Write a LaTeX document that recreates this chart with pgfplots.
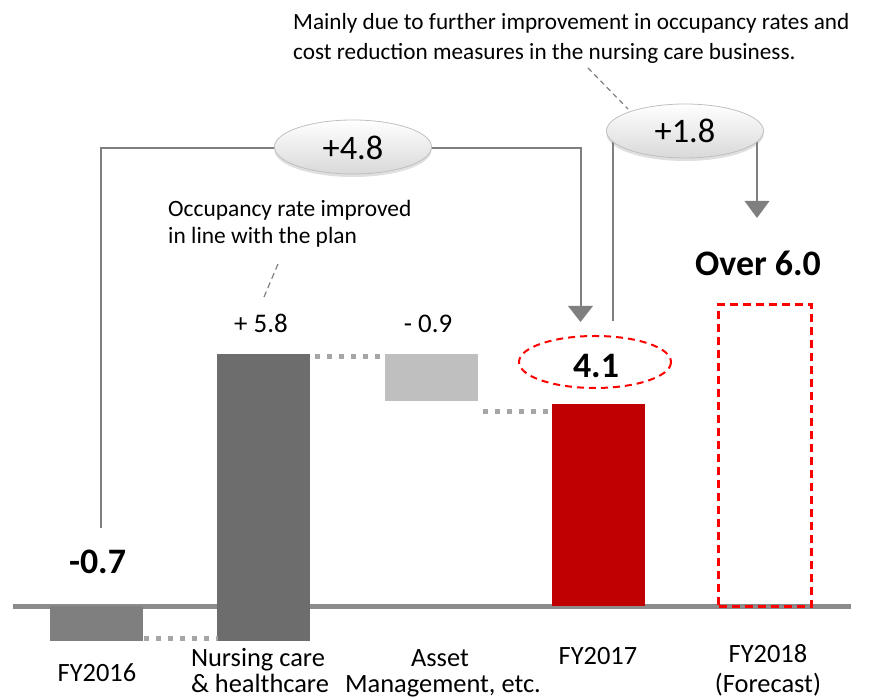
\documentclass[border=0pt]{standalone}
\usepackage{fontspec}
\setmainfont{Carlito}
\usepackage{pgfplots}
\pgfplotsset{compat=1.18}
\usetikzlibrary{shadows}
\definecolor{darkbar}{HTML}{6D6D6D}
\definecolor{midbar}{HTML}{7F7F7F}
\definecolor{lightbar}{HTML}{BFBFBF}
\definecolor{redbar}{HTML}{C00000}
\definecolor{conn}{HTML}{A6A6A6}
\definecolor{basec}{HTML}{8C8C8C}
\definecolor{lin}{HTML}{7F7F7F}
\begin{document}
\begin{tikzpicture}
\begin{axis}[name=ax, scale only axis, width=877bp, height=700bp,
  xmin=-0.5808, xmax=4.6707, ymin=-1.889, ymax=12.253,
  hide axis, clip=false,
  barsty/.style={ybar, bar width=93bp, bar shift=0pt, draw=none}]
% Asset Management (floating 4.15 -> 5.1)
\addplot[barsty, fill=lightbar] coordinates {(2,5.1)};
\addplot[barsty, fill=white] coordinates {(2,4.15)};
% baseline
\addplot[basec, line width=5bp, sharp plot] coordinates {(-0.503,0) (4.515,0)};
% FY2016
\addplot[barsty, fill=midbar] coordinates {(0,-0.7)};
% Nursing care (floating -0.7 -> 5.1)
\addplot[barsty, fill=darkbar] coordinates {(1,5.1)};
\addplot[barsty, fill=darkbar] coordinates {(1,-0.7)};
% FY2017
\addplot[barsty, fill=redbar] coordinates {(3,4.1)};
% FY2018 forecast
\addplot[ybar, bar width=93bp, bar shift=0pt, fill=none, draw=red, line width=2.3bp, dash pattern=on 8bp off 5bp] coordinates {(4,6.1)};
% connectors
\addplot[conn, line width=5bp, dash pattern=on 5bp off 7bp, sharp plot] coordinates {(0.281,-0.64) (0.725,-0.64)};
\addplot[conn, line width=5bp, dash pattern=on 5bp off 7bp, sharp plot] coordinates {(1.305,5.06) (1.71,5.06)};
\addplot[conn, line width=5bp, dash pattern=on 5bp off 7bp, sharp plot] coordinates {(2.31,3.94) (2.72,3.94)};
\end{axis}
\begin{scope}[shift={(ax.north west)}, x=1bp, y=-1bp]
% bracket 1
\draw[lin, line width=2bp] (101,528) -- (101,148) -- (581,148) -- (581,307);
\fill[lin] (568,306) -- (593,306) -- (580.5,322) -- cycle;
% bracket 2
\draw[lin, line width=2bp] (613,321) -- (613,140);
\draw[lin, line width=2bp] (757,140) -- (757,202);
\fill[lin] (744.5,201) -- (769.5,201) -- (757,218) -- cycle;
% dashed pointers
\draw[lin, line width=1.2bp, dash pattern=on 5bp off 4bp] (588,68) -- (628,109);
\draw[lin, line width=1.2bp, dash pattern=on 6bp off 4bp] (278,264) -- (264,297);
% ellipses
\shade[top color=white, bottom color=black!15, draw=black!25, line width=0.8bp,
  drop shadow={opacity=0.25, shadow xshift=0bp, shadow yshift=-3bp}] (353,147) ellipse [x radius=78.5, y radius=27];
\shade[top color=white, bottom color=black!15, draw=black!25, line width=0.8bp,
  drop shadow={opacity=0.25, shadow xshift=0bp, shadow yshift=-3bp}] (685,131) ellipse [x radius=78.5, y radius=27];
\node[font=\fontsize{34.5}{40}\selectfont, inner sep=0, anchor=base] at (353,160) {+4.8};
\node[font=\fontsize{34.5}{40}\selectfont, inner sep=0, anchor=base] at (685,143) {+1.8};
% red dashed ellipse
\draw[red, line width=2bp, dash pattern=on 7bp off 5bp] (595,362) ellipse [x radius=76, y radius=26];
% value labels
\node[font=\fontsize{36}{40}\selectfont\bfseries, inner sep=0, anchor=base] at (596,378) {4.1};
\node[font=\fontsize{36}{40}\selectfont\bfseries, inner sep=0, anchor=base] at (758,276) {Over 6.0};
\node[font=\fontsize{36}{40}\selectfont\bfseries, inner sep=0, anchor=base] at (97.5,574) {-0.7};
\node[font=\fontsize{27}{32}\selectfont, inner sep=0, anchor=base] at (261,333) {+ 5.8};
\node[font=\fontsize{27}{32}\selectfont, inner sep=0, anchor=base] at (428,333) {- 0.9};
% annotations
\node[font=\fontsize{23.3}{26}\selectfont, inner sep=0, anchor=base west] at (293,30) {Mainly due to further improvement in occupancy rates and};
\node[font=\fontsize{23.3}{26}\selectfont, inner sep=0, anchor=base west] at (293,60) {cost reduction measures in the nursing care business.};
\node[font=\fontsize{23.5}{26}\selectfont, inner sep=0, anchor=base west] at (168,217) {Occupancy rate improved};
\node[font=\fontsize{23.5}{26}\selectfont, inner sep=0, anchor=base west] at (168,244) {in line with the plan};
% category labels
\node[font=\fontsize{26.5}{30}\selectfont, inner sep=0, anchor=base] at (97,682) {FY2016};
\node[font=\fontsize{26.5}{30}\selectfont, inner sep=0, anchor=base] at (258,667) {Nursing care};
\node[font=\fontsize{26.5}{30}\selectfont, inner sep=0, anchor=base] at (260,693) {\& healthcare};
\node[font=\fontsize{26.5}{30}\selectfont, inner sep=0, anchor=base] at (440,667) {Asset};
\node[font=\fontsize{26.5}{30}\selectfont, inner sep=0, anchor=base] at (443,693) {Management, etc.};
\node[font=\fontsize{26.5}{30}\selectfont, inner sep=0, anchor=base] at (598,665) {FY2017};
\node[font=\fontsize{26.5}{30}\selectfont, inner sep=0, anchor=base] at (768,663) {FY2018};
\node[font=\fontsize{26.5}{30}\selectfont, inner sep=0, anchor=base] at (768,693) {(Forecast)};
\end{scope}
\pgfresetboundingbox
\path[use as bounding box] (ax.south west) rectangle (ax.north east);
\end{tikzpicture}
\end{document}
